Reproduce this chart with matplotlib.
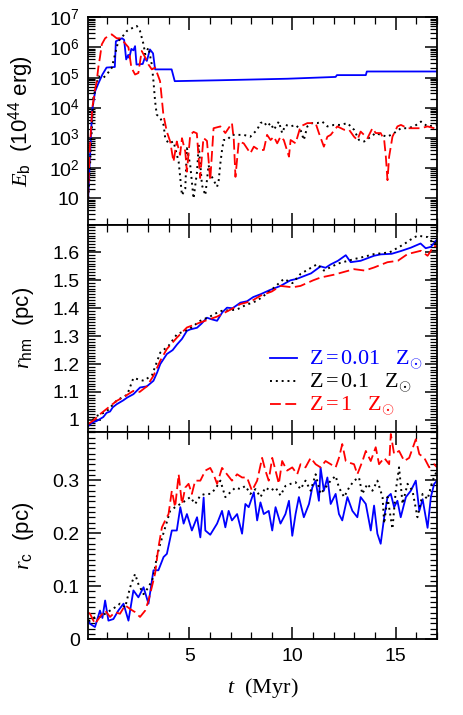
import numpy as np
import matplotlib
matplotlib.use("Agg")
import matplotlib.pyplot as plt
from matplotlib.ticker import MultipleLocator, FixedLocator, FixedFormatter, LogLocator, NullFormatter

plt.rcParams['font.family'] = ['Liberation Sans', 'DejaVu Sans']
plt.rcParams['mathtext.fontset'] = 'custom'
plt.rcParams['mathtext.rm'] = 'Liberation Sans'
plt.rcParams['mathtext.it'] = 'Liberation Serif:italic'

# ---- top panel: binding energy, log10(E_b / 1e44 erg) ----
eb_t_blue = [0.11, 0.2, 0.3, 0.45, 0.6, 0.8, 1.0, 1.4, 1.45, 1.75, 1.85, 1.95, 2.05, 2.1, 2.2, 2.3,
             2.38, 2.45, 2.75, 2.85, 2.95, 3.1, 3.25, 3.35, 4.15, 4.3, 6.5, 9.75, 12.09, 12.15,
             13.55, 13.6, 17.0]
eb_blue = [1.0, 2.4, 3.9, 4.55, 4.8, 5.1, 5.33, 5.35, 6.2, 6.3, 6.25, 5.6, 5.75, 5.65, 5.95, 5.9,
           6.04, 5.43, 5.45, 5.65, 5.55, 5.93, 5.8, 5.27, 5.27, 4.88, 4.91, 4.96, 5.02, 5.08,
           5.08, 5.2, 5.2]

eb_t_black = [0.12, 0.36, 0.6, 0.84, 1.01, 1.25, 1.41, 1.57, 1.73, 1.98, 2.22, 2.46, 2.62, 2.79,
              2.87, 3.03, 3.19, 3.27, 3.35, 3.43, 3.6, 3.76, 3.84, 4.0, 4.24, 4.49, 4.65, 4.81,
              4.89, 5.05, 5.21, 5.38, 5.46, 5.62, 5.78, 5.94, 6.02, 6.18, 6.35, 6.43, 6.51, 6.59,
              6.67, 6.83, 7.07, 7.32, 7.64, 7.96, 8.13, 8.29, 8.45, 8.61, 8.77, 8.94, 9.1, 9.34,
              9.5, 9.66, 9.91, 10.15, 10.39, 10.55, 10.72, 10.96, 11.2, 11.44, 11.69, 12.01,
              12.33, 12.66, 12.98, 13.22, 13.47, 13.79, 14.03, 14.27, 14.6, 14.92, 15.25, 15.57,
              15.89, 16.22, 16.54, 17.0]
eb_black = [1.0, 4.32, 5.04, 4.99, 5.1, 5.32, 5.77, 6.21, 6.32, 6.54, 6.63, 6.71, 6.54, 6.1,
            5.77, 5.99, 5.43, 4.88, 4.21, 3.77, 3.66, 3.43, 2.99, 2.82, 2.88, 2.21, 1.1, 1.32,
            2.66, 2.1, 0.99, 1.88, 2.77, 1.43, 1.1, 2.1, 1.82, 1.6, 1.38, 1.6, 2.16, 2.6,
            2.93, 2.93, 3.1, 3.1, 3.1, 3.04, 3.16, 3.27, 3.49, 3.54, 3.38, 3.49, 3.27, 3.54,
            3.16, 3.43, 3.38, 3.43, 3.27, 2.93, 3.38, 3.49, 3.49, 3.54, 3.38, 3.43,
            3.43, 3.49, 3.27, 2.93, 2.88, 3.04, 3.16, 3.1, 3.04, 3.16, 3.32, 3.32,
            3.38, 3.54, 3.38, 3.43]

eb_t_red = [0.1, 0.19, 0.31, 0.44, 0.52, 0.6, 0.68, 0.77, 0.93, 1.09, 1.25, 1.49, 1.65, 1.81,
            2.06, 2.2, 2.38, 2.54, 2.7, 2.87, 3.03, 3.19, 3.35, 3.59, 3.67, 3.75, 3.92, 4.08,
            4.24, 4.4, 4.56, 4.65, 4.81, 4.89, 5.05, 5.21, 5.37, 5.53, 5.69, 5.86, 6.02, 6.18,
            6.51, 6.75, 7.07, 7.16, 7.24, 7.4, 7.64, 7.96, 8.13, 8.37, 8.61, 8.77, 8.94, 9.1,
            9.26, 9.42, 9.58, 9.83, 9.91, 10.15, 10.39, 10.72, 11.12, 11.28, 11.52, 11.69,
            11.85, 12.17, 12.5, 12.74, 12.98, 13.14, 13.3, 13.63, 13.87, 14.03, 14.27, 14.44,
            14.52, 14.6, 14.68, 14.84, 15.08, 15.25, 15.57, 15.89, 16.22, 16.54, 16.86, 17.0]
eb_red = [0.99, 2.67, 4.0, 4.6, 4.85, 5.33, 5.67, 6.1, 6.3, 6.38, 6.43, 6.3, 6.3, 6.2,
          6.0, 5.33, 5.1, 5.15, 5.88, 5.67, 5.43, 5.27, 5.33, 4.88, 4.33, 3.77, 3.2, 2.88,
          2.21, 2.88, 2.44, 2.99, 2.55, 1.88, 3.1, 3.2, 3.15, 1.67, 3.0, 2.9, 1.6, 3.32,
          3.38, 3.16, 3.49, 2.93, 1.71, 2.88, 2.82, 2.49, 2.71, 2.6, 2.6, 3.1, 2.93, 3.04,
          2.82, 3.04, 2.93, 2.38, 2.93, 2.82, 3.38, 3.49, 3.49, 3.16, 2.71, 3.04,
          3.1, 3.38, 3.27, 3.27, 3.04, 2.93, 3.21, 2.99, 3.32, 3.16, 3.16, 2.93,
          2.38, 1.6, 2.38, 3.04, 3.38, 3.43, 3.32, 3.32, 3.32, 3.38, 3.32, 3.27]

# ---- middle panel: half-mass radius (pc) ----
rhm_t_blue = [0.12, 0.3, 0.52, 0.84, 1.0, 1.17, 1.3, 1.49, 1.81, 2.0, 2.3, 2.62, 2.95, 3.27, 3.45,
              3.6, 3.92, 4.2, 4.41, 4.65, 4.89, 5.05, 5.38, 5.6, 5.86, 6.1, 6.35, 6.6, 6.83, 7.1,
              7.48, 7.8, 8.1, 8.45, 8.9, 9.42, 9.9, 10.2, 10.55, 10.9, 11.36, 11.6, 11.85, 12.2,
              12.58, 12.82, 13.3, 13.95, 14.27, 14.8, 15.25, 15.73, 16.2, 16.45, 16.7, 17.0]
rhm_blue = [0.978, 0.99, 0.996, 1.01, 1.025, 1.03, 1.045, 1.056, 1.07, 1.08, 1.092, 1.116, 1.12,
            1.14, 1.17, 1.20, 1.236, 1.25, 1.27, 1.29, 1.319, 1.324, 1.33, 1.345, 1.366, 1.36,
            1.355, 1.385, 1.402, 1.40, 1.42, 1.425, 1.44, 1.45, 1.465, 1.48, 1.50, 1.505, 1.515,
            1.525, 1.55, 1.545, 1.557, 1.57, 1.59, 1.565, 1.57, 1.588, 1.593, 1.595, 1.605,
            1.617, 1.632, 1.615, 1.62, 1.647]

rhm_t_black = [0.12, 0.52, 1.0, 1.5, 2.0, 2.3, 2.8, 3.2, 3.6, 4.0, 4.41, 5.0, 5.54, 6.0, 6.5,
               7.3, 7.7, 8.29, 8.94, 9.58, 10.0, 10.39, 11.2, 11.52, 12.2, 12.98, 13.5, 13.95,
               14.7, 15.41, 15.7, 16.05, 16.54, 16.86, 17.0]
rhm_black = [0.985, 1.014, 1.03, 1.07, 1.09, 1.15, 1.14, 1.16, 1.241, 1.265, 1.307, 1.325, 1.355,
             1.37, 1.39, 1.395, 1.41, 1.427, 1.463, 1.505, 1.49, 1.523, 1.558, 1.535, 1.56,
             1.576, 1.585, 1.594, 1.60, 1.63, 1.645, 1.66, 1.655, 1.63, 1.64]

rhm_t_red = [0.12, 0.4, 0.68, 1.1, 1.49, 1.9, 2.3, 2.6, 2.95, 3.27, 3.6, 3.92, 4.41, 4.89, 5.54,
             6.35, 7.0, 7.48, 8.0, 8.45, 9.0, 9.42, 10.0, 10.39, 11.0, 11.36, 12.0, 12.98,
             13.5, 13.95, 14.6, 15.1, 15.57, 16.22, 16.54, 16.86, 17.0]
rhm_red = [0.985, 1.0, 1.02, 1.045, 1.068, 1.085, 1.104, 1.1, 1.12, 1.158, 1.212, 1.254, 1.295,
           1.331, 1.349, 1.37, 1.395, 1.415, 1.425, 1.445, 1.46, 1.48, 1.475, 1.48, 1.5, 1.51,
           1.52, 1.54, 1.535, 1.546, 1.565, 1.57, 1.594, 1.606, 1.588, 1.624, 1.62]

# ---- bottom panel: core radius (pc) ----
rc_t_blue = [0.12, 0.2, 0.44, 0.68, 0.8, 0.93, 1.09, 1.33, 1.57, 1.82, 2.06, 2.3, 2.54, 2.79,
             3.03, 3.27, 3.51, 3.76, 3.92, 4.16, 4.4, 4.57, 4.73, 4.89, 5.13, 5.38, 5.54, 5.7,
             5.78, 6.02, 6.35, 6.59, 6.75, 6.91, 7.07, 7.32, 7.56, 7.72, 7.88, 8.13, 8.29, 8.45,
             8.61, 8.85, 9.02, 9.18, 9.42, 9.66, 9.83, 9.99, 10.15, 10.31, 10.55, 10.8, 10.96,
             11.12, 11.28, 11.36, 11.52, 11.69, 11.85, 12.09, 12.25, 12.41, 12.66, 12.9, 13.14,
             13.3, 13.55, 13.79, 13.95, 14.11, 14.27, 14.44, 14.6, 14.76, 14.92, 15.08, 15.24,
             15.49, 15.73, 15.97, 16.14, 16.3, 16.54, 16.7, 16.86, 17.0]
rc_blue = [0.035, 0.029, 0.023, 0.054, 0.04, 0.073, 0.035, 0.038, 0.054, 0.067, 0.035, 0.092,
           0.079, 0.098, 0.067, 0.130, 0.130, 0.155, 0.161, 0.205, 0.205, 0.249, 0.218, 0.236,
           0.205, 0.230, 0.192, 0.267, 0.205, 0.197, 0.218, 0.242, 0.211, 0.242, 0.224, 0.236,
           0.199, 0.255, 0.249, 0.277, 0.224, 0.258, 0.236, 0.242, 0.205, 0.249, 0.218, 0.236,
           0.261, 0.195, 0.236, 0.268, 0.230, 0.255, 0.286, 0.299, 0.261, 0.324, 0.280, 0.305,
           0.255, 0.274, 0.236, 0.224, 0.268, 0.242, 0.230, 0.268, 0.255, 0.205, 0.252, 0.199,
           0.180, 0.230, 0.268, 0.274, 0.249, 0.261, 0.230, 0.268, 0.280, 0.299, 0.242, 0.264,
           0.21, 0.268, 0.293, 0.299]

rc_t_black = [0.12, 0.2, 0.44, 0.68, 0.93, 1.17, 1.41, 1.65, 1.9, 2.14, 2.38, 2.54, 2.79, 3.03,
              3.27, 3.43, 3.6, 3.84, 4.08, 4.32, 4.57, 4.81, 5.05, 5.29, 5.54, 5.78, 6.02, 6.26,
              6.51, 6.75, 6.99, 7.24, 7.48, 7.72, 7.96, 8.21, 8.45, 8.69, 8.94, 9.18, 9.42, 9.66,
              9.91, 10.15, 10.39, 10.63, 10.88, 11.12, 11.36, 11.6, 11.85, 12.09, 12.25, 12.5,
              12.74, 12.98, 13.22, 13.38, 13.63, 13.87, 14.11, 14.36, 14.44, 14.6, 14.84, 15.0,
              15.16, 15.33, 15.57, 15.81, 16.05, 16.3, 16.54, 16.78, 17.0]
rc_black = [0.035, 0.035, 0.042, 0.042, 0.048, 0.054, 0.060, 0.067, 0.060, 0.098, 0.123, 0.104,
            0.085, 0.098, 0.117, 0.155, 0.180, 0.211, 0.242, 0.249, 0.255, 0.261, 0.268, 0.255,
            0.271, 0.274, 0.274, 0.283, 0.299, 0.268, 0.277, 0.286, 0.283, 0.289, 0.274, 0.283,
            0.268, 0.286, 0.280, 0.286, 0.271, 0.289, 0.293, 0.296, 0.283, 0.299, 0.280, 0.311,
            0.274, 0.286, 0.299, 0.308, 0.286, 0.268, 0.286, 0.299, 0.305, 0.274, 0.293, 0.280,
            0.299, 0.268, 0.218, 0.268, 0.208, 0.280, 0.324, 0.255, 0.293, 0.280, 0.230, 0.274,
            0.264, 0.299, 0.318]

rc_t_red = [0.12, 0.2, 0.44, 0.68, 0.93, 1.17, 1.41, 1.65, 1.9, 2.14, 2.38, 2.62, 2.87, 3.03,
            3.19, 3.35, 3.51, 3.68, 3.84, 4.0, 4.16, 4.32, 4.49, 4.65, 4.81, 4.97, 5.13, 5.29,
            5.54, 5.78, 6.02, 6.18, 6.35, 6.59, 6.83, 7.07, 7.32, 7.56, 7.8, 8.04, 8.29, 8.53,
            8.69, 8.85, 9.02, 9.18, 9.34, 9.5, 9.74, 9.99, 10.23, 10.39, 10.63, 10.88, 11.12,
            11.36, 11.6, 11.85, 12.09, 12.25, 12.41, 12.58, 12.74, 12.98, 13.14, 13.39, 13.55,
            13.79, 14.03, 14.19, 14.44, 14.68, 14.76, 14.92, 15.16, 15.41, 15.65, 15.97, 16.14,
            16.38, 16.62, 16.86, 17.0]
rc_red = [0.05, 0.048, 0.029, 0.042, 0.054, 0.042, 0.051, 0.048, 0.064, 0.057, 0.051, 0.042,
          0.054, 0.073, 0.098, 0.124, 0.173, 0.211, 0.224, 0.236, 0.28, 0.249, 0.311, 0.255,
          0.286, 0.293, 0.274, 0.299, 0.299, 0.318, 0.323, 0.311, 0.293, 0.323, 0.311, 0.299,
          0.311, 0.305, 0.305, 0.28, 0.299, 0.342, 0.318, 0.299, 0.342, 0.318, 0.293, 0.336,
          0.318, 0.324, 0.311, 0.330, 0.324, 0.342, 0.330, 0.324, 0.336, 0.330, 0.324, 0.342,
          0.368, 0.336, 0.333, 0.330, 0.311, 0.336, 0.355, 0.336, 0.362, 0.330, 0.342, 0.330,
          0.387, 0.349, 0.355, 0.336, 0.342, 0.377, 0.349, 0.342, 0.324, 0.330, 0.324]

labels = [r'Z$\,$=$\,$0.01$\ \ \ $Z$_{\odot}$', r'Z$\,$=$\,$0.1$\ \ \ $Z$_{\odot}$',
          r'Z$\,$=$\,$1$\ \ \ $Z$_{\odot}$']

blue_kw = dict(color='#0000ff', lw=1.3, ls='-')
black_kw = dict(color='black', lw=1.4, ls=(0, (1, 2)))
red_kw = dict(color='#ff0000', lw=1.3, ls=(0, (6, 2.5)))

serif = ['Liberation Serif', 'DejaVu Serif']

fig, axes = plt.subplots(3, 1, figsize=(4.63, 7.15), dpi=100, sharex=True)
fig.subplots_adjust(left=0.19, right=0.944, top=0.976, bottom=0.106, hspace=0)
ax1, ax2, ax3 = axes

ax1.plot(eb_t_blue, 10 ** np.array(eb_blue), **blue_kw)
ax1.plot(eb_t_black, 10 ** np.array(eb_black), **black_kw)
ax1.plot(eb_t_red, 10 ** np.array(eb_red), **red_kw)
ax1.set_yscale('log')
ax1.set_ylim(1.35, 1e7)
ax1.yaxis.set_major_locator(FixedLocator([10 ** k for k in range(0, 8)]))
ax1.yaxis.set_major_formatter(FixedFormatter(['1', '10'] + [r'10$^{%d}$' % k for k in range(2, 8)]))
ax1.yaxis.set_minor_locator(LogLocator(base=10, subs=np.arange(2, 10), numticks=20))
ax1.yaxis.set_minor_formatter(NullFormatter())
ax1.set_ylabel(r'$E_{\rm b}$  (10$^{44}$ erg)', fontsize=16)

ax2.plot(rhm_t_blue, rhm_blue, label=labels[0], **blue_kw)
ax2.plot(rhm_t_black, rhm_black, label=labels[1], **black_kw)
ax2.plot(rhm_t_red, rhm_red, label=labels[2], **red_kw)
ax2.set_ylim(0.957, 1.70)
ax2.yaxis.set_minor_locator(MultipleLocator(0.01))
ax2.set_yticks([1.0, 1.1, 1.2, 1.3, 1.4, 1.5, 1.6])
ax2.set_yticklabels(['1', '1.1', '1.2', '1.3', '1.4', '1.5', '1.6'])
ax2.set_ylabel(r'$r_{\rm hm}$  (pc)', fontsize=16)
leg = ax2.legend(loc='lower right', bbox_to_anchor=(1.015, -0.03), frameon=False,
                 handlelength=1.2, handletextpad=0.55, labelspacing=0.0,
                 labelcolor='linecolor', prop={'family': serif, 'size': 16})

ax3.plot(rc_t_blue, rc_blue, **blue_kw)
ax3.plot(rc_t_black, rc_black, **black_kw)
ax3.plot(rc_t_red, rc_red, **red_kw)
ax3.set_ylim(0, 0.391)
ax3.yaxis.set_minor_locator(MultipleLocator(0.01))
ax3.set_yticks([0, 0.1, 0.2, 0.3])
ax3.set_yticklabels(['0', '0.1', '0.2', '0.3'])
ax3.set_ylabel(r'$r_{\rm c}$  (pc)', fontsize=16)

ax3.set_xlim(0.1, 17.0)
ax3.xaxis.set_major_locator(MultipleLocator(5))
ax3.xaxis.set_minor_locator(MultipleLocator(1))
ax3.set_xlabel(r'$t$  (Myr)', fontsize=16, family=serif, labelpad=8)

for ax in axes:
    ax.tick_params(which='both', direction='in', top=True, right=True, labelsize=14, pad=6)
    ax.tick_params(which='major', length=9, width=1.1)
    ax.tick_params(which='minor', length=5, width=0.9)
    for s in ax.spines.values():
        s.set_linewidth(1.3)
    ax.yaxis.set_label_coords(-0.15, 0.5)

fig.savefig('out.png', dpi=100)
